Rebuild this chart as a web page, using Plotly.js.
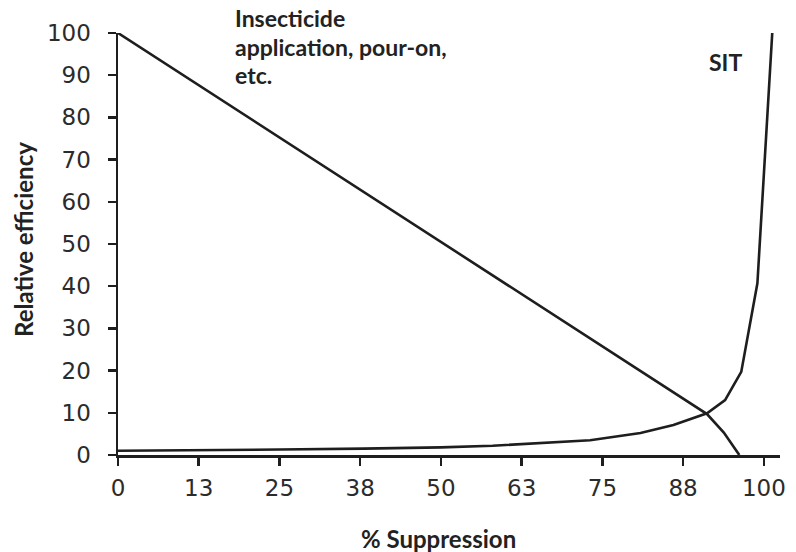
<!DOCTYPE html>
<html>
<head>
<meta charset="utf-8">
<script src="https://cdn.plot.ly/plotly-3.0.1.min.js"></script>
<style>html,body{margin:0;padding:0;background:#fff;}#chart{width:796px;height:552px;}</style>
</head>
<body>
<div id="chart"></div>
<script>
// Insecticide application curve
const insectX = [0, 45, 91.2, 93.8, 96.2];
const insectY = [100, 55.4, 9.7, 5.3, 0];
// SIT curve
const sitX = [0, 13, 25, 38, 50, 58, 65.4, 73.1, 80.9, 86, 91.2, 94, 95.3, 96.5, 99, 101.3];
const sitY = [1, 1.1, 1.3, 1.5, 1.8, 2.2, 2.8, 3.5, 5.2, 7.1, 9.9, 13, 16.5, 19.7, 40.7, 100];
// Axis ticks
const xTickVals = [0, 12.5, 25, 37.5, 50, 62.5, 75, 87.5, 100];
const xTickText = ["0", "13", "25", "38", "50", "63", "75", "88", "100"];
const yTickVals = [0, 10, 20, 30, 40, 50, 60, 70, 80, 90, 100];

const lineStyle = {color: '#1e1e1e', width: 2.6};
const traces = [
  {x: insectX, y: insectY, mode: 'lines', line: lineStyle, name: 'Insecticide', cliponaxis: false},
  {x: sitX, y: sitY, mode: 'lines', line: lineStyle, name: 'SIT', cliponaxis: false}
];

const tickFont = {family: 'DejaVu Sans, sans-serif', size: 23, color: '#2b2b2b'};
const labelFont = {family: 'Lato, sans-serif', size: 24, color: '#222', weight: 'bold'};
const noteFont = {family: 'Lato, sans-serif', size: 23, color: '#222', weight: 'bold'};

// pixel helpers for paper coordinates (plot area: x 118..780, y 33..455)
const px = v => (v - 118) / 662;
const py = v => (455 - v) / 422;

const layout = {
  width: 796, height: 552,
  margin: {l: 118, r: 16, t: 33, b: 97},
  paper_bgcolor: '#fff', plot_bgcolor: '#fff',
  showlegend: false,
  xaxis: {
    range: [0, 102.5], tickvals: xTickVals, ticktext: xTickText,
    showgrid: false, zeroline: false, showline: true, linecolor: '#1e1e1e', linewidth: 2.5,
    ticks: 'outside', ticklen: 8, tickwidth: 2.5, tickcolor: '#1e1e1e',
    tickfont: tickFont, ticklabelstandoff: 3
  },
  yaxis: {
    range: [0, 100], tickvals: yTickVals,
    showgrid: false, zeroline: false, showline: true, linecolor: '#1e1e1e', linewidth: 2.5,
    ticks: 'outside', ticklen: 8, tickwidth: 2.5, tickcolor: '#1e1e1e',
    tickfont: tickFont, ticklabelstandoff: 12
  },
  annotations: [
    {text: 'Insecticide', x: px(233), y: py(18.5), font: noteFont},
    {text: 'application, pour-on,', x: px(233), y: py(47), font: noteFont},
    {text: 'etc.', x: px(233), y: py(75.5), font: noteFont},
    {text: 'SIT', x: px(707), y: py(62), font: noteFont},
    {text: 'Relative efficiency', x: px(23), y: py(240), textangle: -90, xanchor: 'center'},
    {text: '% Suppression', x: px(438), y: py(538), xanchor: 'center'}
  ].map(a => Object.assign({xref: 'paper', yref: 'paper', xanchor: 'left', yanchor: 'middle',
                            align: 'left', showarrow: false, font: labelFont}, a))
};
Plotly.newPlot('chart', traces, layout, {displayModeBar: false, staticPlot: true});
</script>
</body>
</html>
